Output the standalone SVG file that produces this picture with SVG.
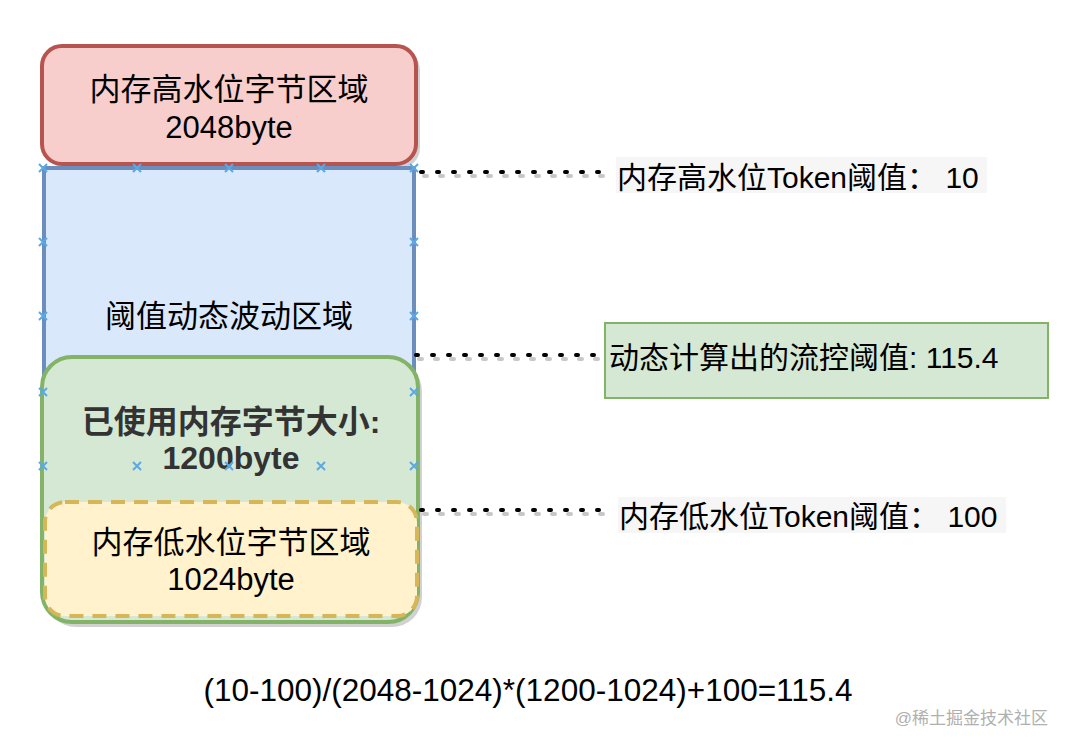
<svg xmlns="http://www.w3.org/2000/svg" width="1070" height="750" viewBox="0 0 1070 750">
<defs>
<style>
text{font-family:"Liberation Sans","Noto Sans CJK SC",sans-serif;font-size:30px;fill:#000}
.c{text-anchor:middle}
.n{font-size:31px}
.b{font-weight:bold;fill:#333;font-size:32px}
.dot{fill:none;stroke:#000;stroke-width:4;stroke-linecap:round;stroke-dasharray:2 14}
.dsh{fill:none;stroke:#c8c8c8;stroke-width:4;stroke-linecap:round;stroke-dasharray:3 13}
.sh{fill:#000;opacity:0.18}
.mk{fill:none;stroke:#5aa9e6;stroke-width:2}
</style>
<path id="x" d="M-4,-4L4,4M-4,4L4,-4"/>
</defs>
<rect width="1070" height="750" fill="#fff"/>

<g id="shadows">
<rect class="sh" x="46" y="50" width="374" height="118" rx="20"/>
<rect class="sh" x="46" y="361" width="376" height="266" rx="30"/>
</g>

<g id="node-dynamic">
<rect x="44" y="168" width="370" height="300" fill="#dae8fc" stroke="#6c8ebf" stroke-width="4"/>
<text class="c n" x="229" y="327">阈值动态波动区域</text>
</g>

<g id="node-high">
<rect x="42" y="46" width="374" height="118" rx="20" fill="#f8cecc" stroke="#b85450" stroke-width="4"/>
<text class="c n" x="229" y="100">内存高水位字节区域</text>
<text class="c n" x="229" y="138">2048byte</text>
</g>
<line x1="44" y1="168" x2="414" y2="168" stroke="#6c8ebf" stroke-width="4"/>

<g id="node-used">
<rect x="42" y="357" width="376" height="265" rx="30" fill="#d5e8d4" stroke="#82b366" stroke-width="4"/>
<text class="c b" x="231" y="433">已使用内存字节大小:</text>
<text class="c b" x="231" y="469">1200byte</text>
</g>

<g id="node-low">
<rect x="45" y="502" width="372" height="114" rx="20" fill="#fff2cc" stroke="#d6b656" stroke-width="4" stroke-dasharray="14 9"/>
<text class="c n" x="231" y="553">内存低水位字节区域</text>
<text class="c n" x="231" y="590">1024byte</text>
</g>

<g id="markers">
<use href="#x" class="mk" x="43" y="168"/><use href="#x" class="mk" x="137" y="168"/><use href="#x" class="mk" x="229" y="168"/><use href="#x" class="mk" x="321" y="168"/><use href="#x" class="mk" x="414" y="168"/>
<use href="#x" class="mk" x="43" y="242"/><use href="#x" class="mk" x="414" y="242"/>
<use href="#x" class="mk" x="43" y="316"/><use href="#x" class="mk" x="414" y="316"/>
<use href="#x" class="mk" x="43" y="392"/><use href="#x" class="mk" x="414" y="392"/>
<use href="#x" class="mk" x="43" y="466"/><use href="#x" class="mk" x="137" y="466"/><use href="#x" class="mk" x="229" y="466"/><use href="#x" class="mk" x="321" y="466"/><use href="#x" class="mk" x="414" y="466"/>
</g>

<g id="connectors">
<line class="dsh" x1="424" y1="176" x2="614" y2="176"/>
<line class="dot" x1="421" y1="172" x2="612" y2="172"/>
<line class="dsh" x1="419" y1="359" x2="605" y2="359"/>
<line class="dot" x1="416" y1="355" x2="603" y2="355"/>
<line class="dsh" x1="424" y1="514" x2="614" y2="514"/>
<line class="dot" x1="421" y1="510" x2="612" y2="510"/>
</g>

<g id="label-high">
<rect x="616" y="157" width="371" height="36" fill="#f6f6f6"/>
<text x="617" y="188">内存高水位Token阈值： 10</text>
</g>

<g id="label-calc">
<rect x="605" y="323" width="443" height="75" fill="#d5e8d4" stroke="#82b366" stroke-width="2"/>
<text x="609" y="368">动态计算出的流控阈值: 115.4</text>
</g>

<g id="label-low">
<rect x="618" y="497" width="388" height="36" fill="#f6f6f6"/>
<text x="619" y="527">内存低水位Token阈值： 100</text>
</g>

<text x="528" y="701" class="c" style="font-size:31.5px">(10-100)/(2048-1024)*(1200-1024)+100=115.4</text>
<text x="1048" y="724" text-anchor="end" style="font-size:17px;fill:#b0b0b0">@稀土掘金技术社区</text>
</svg>
